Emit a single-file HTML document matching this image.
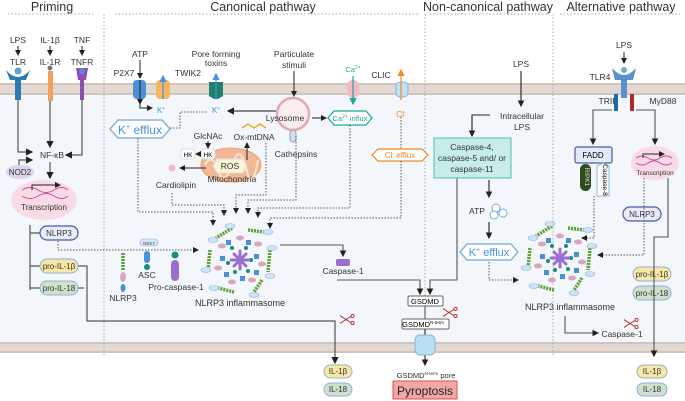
<!DOCTYPE html>
<html><head><meta charset="utf-8"><style>
html,body{margin:0;padding:0;background:#fff}
svg{display:block;font-family:"Liberation Sans",sans-serif}
</style></head><body>
<svg width="685" height="401" viewBox="0 0 685 401" xmlns="http://www.w3.org/2000/svg">
<defs>
<marker id="a" markerWidth="6" markerHeight="6" refX="5" refY="3" orient="auto"><path d="M0,0 L6,3 L0,6z" fill="#222"/></marker>
<marker id="ab" markerWidth="6" markerHeight="6" refX="5" refY="3" orient="auto"><path d="M0,0 L6,3 L0,6z" fill="#4a90e2"/></marker>
<marker id="ao" markerWidth="6" markerHeight="6" refX="5" refY="3" orient="auto"><path d="M0,0 L6,3 L0,6z" fill="#f08a24"/></marker>
<marker id="at" markerWidth="6" markerHeight="6" refX="5" refY="3" orient="auto"><path d="M0,0 L6,3 L0,6z" fill="#20a89a"/></marker>
<symbol id="inf" viewBox="-40 -40 80 80">
<g stroke="#5aa02c" stroke-width="3.5" stroke-dasharray="2 1">
<line x1="-8" y1="-32" x2="-24" y2="-22"/><line x1="8" y1="-30" x2="24" y2="-28"/><line x1="30" y1="-10" x2="28" y2="12"/>
<line x1="22" y1="20" x2="14" y2="32"/><line x1="-6" y1="32" x2="-22" y2="28"/><line x1="-32" y1="10" x2="-30" y2="-10"/></g>
<g fill="#cfe3f6" stroke="#8ab4dc" stroke-width=".6">
<ellipse cx="-10" cy="-34" rx="5" ry="2.5"/><ellipse cx="-27" cy="-20" rx="5" ry="2.5"/><ellipse cx="28" cy="-28" rx="5" ry="2.5"/>
<ellipse cx="32" cy="-12" rx="5" ry="2.5"/><ellipse cx="30" cy="16" rx="5" ry="2.5"/><ellipse cx="14" cy="35" rx="5" ry="2.5"/>
<ellipse cx="-26" cy="28" rx="5" ry="2.5"/><ellipse cx="-34" cy="10" rx="5" ry="2.5"/></g>
<g fill="#d9a6c2"><ellipse cx="-18" cy="-14" rx="4" ry="2.5"/><ellipse cx="0" cy="-22" rx="4" ry="2.5"/><ellipse cx="18" cy="-16" rx="4" ry="2.5"/><ellipse cx="22" cy="4" rx="4" ry="2.5"/><ellipse cx="12" cy="20" rx="4" ry="2.5"/><ellipse cx="-8" cy="22" rx="4" ry="2.5"/><ellipse cx="-22" cy="8" rx="4" ry="2.5"/></g>
<g fill="#4a8fd8"><rect x="-14" y="-20" width="5" height="5"/><rect x="6" y="-20" width="5" height="5"/><rect x="14" y="-6" width="5" height="5"/><rect x="14" y="10" width="5" height="5"/><rect x="0" y="16" width="5" height="5"/><rect x="-16" y="12" width="5" height="5"/><rect x="-20" y="-4" width="5" height="5"/></g>
<g fill="#138f7a"><circle cx="-8" cy="-12" r="2"/><circle cx="6" cy="-12" r="2"/><circle cx="11" cy="0" r="2"/><circle cx="8" cy="11" r="2"/><circle cx="-5" cy="12" r="2"/><circle cx="-12" cy="3" r="2"/></g>
<g stroke="#9a6fcf" stroke-width="3" stroke-linecap="round"><line x1="-9" y1="0" x2="9" y2="0"/><line x1="0" y1="-9" x2="0" y2="9"/><line x1="-6" y1="-6" x2="6" y2="6"/><line x1="-6" y1="6" x2="6" y2="-6"/></g>
</symbol>
<symbol id="sc" viewBox="0 0 20 14"><g stroke="#b5302a" stroke-width="1.2" fill="none"><line x1="1" y1="2" x2="15" y2="11"/><line x1="1" y1="12" x2="15" y2="3"/><circle cx="17" cy="2.5" r="2"/><circle cx="17" cy="11.5" r="2"/></g></symbol>
</defs>

<rect x="0" y="95" width="685" height="247" fill="#f3f6fb"/>
<g>
<rect x="0" y="83" width="685" height="12" fill="#e3d9d2"/>
<line x1="0" y1="84" x2="685" y2="84" stroke="#bfb0a6"/><line x1="0" y1="94" x2="685" y2="94" stroke="#bfb0a6"/>
<rect x="0" y="342" width="685" height="11" fill="#e3d9d2"/>
<line x1="0" y1="343" x2="685" y2="343" stroke="#bfb0a6"/><line x1="0" y1="352" x2="685" y2="352" stroke="#bfb0a6"/>
</g>
<g font-size="12.5" fill="#333" text-anchor="middle">
<text x="52" y="11">Priming</text><text x="263" y="11">Canonical pathway</text>
<text x="488" y="11">Non-canonical pathway</text><text x="621" y="11">Alternative pathway</text></g>
<g stroke="#aaa" stroke-dasharray="1.5 2" stroke-width="1">
<line x1="8" y1="14" x2="93" y2="14"/><line x1="115" y1="14" x2="420" y2="14"/><line x1="430" y1="14" x2="548" y2="14"/><line x1="560" y1="14" x2="680" y2="14"/>
<line x1="104" y1="14" x2="104" y2="355"/><line x1="425" y1="14" x2="425" y2="355"/><line x1="553" y1="14" x2="553" y2="355"/></g>

<g font-size="8.5" fill="#333" text-anchor="middle">
<text x="18" y="43">LPS</text><text x="50" y="43">IL-1β</text><text x="82" y="43">TNF</text>
<text x="18" y="65">TLR</text><text x="50" y="65">IL-1R</text><text x="82" y="65">TNFR</text>
</g>
<g stroke="#222" fill="none" stroke-width="1">
<line x1="18" y1="46" x2="18" y2="55" marker-end="url(#a)"/><line x1="50" y1="46" x2="50" y2="55" marker-end="url(#a)"/><line x1="82" y1="46" x2="82" y2="55" marker-end="url(#a)"/>
</g>
<path d="M6,70 Q18,84 30,70 L26,80 L21,80 L21,100 L15,100 L15,80 L10,80z" fill="#2a7bb0"/><circle cx="18" cy="71" r="4" fill="#6a9fc8" stroke="#fff"/>
<rect x="48" y="71" width="5" height="30" fill="#f0a060"/><circle cx="50" cy="68" r="2.5" fill="#777"/>
<path d="M76,68 L88,68 L86,80 L84,80 L84,100 L80,100 L80,80 L78,80z" fill="#8a4fb0"/><circle cx="82" cy="71" r="3" fill="#6a7fe0"/>
<g stroke="#555" fill="none" stroke-width="1.2">
<path d="M18,100 L18,152 L32,152" marker-end="url(#a)"/>
<line x1="50" y1="101" x2="50" y2="147" marker-end="url(#a)"/>
<path d="M82,100 L82,155 L66,155" marker-end="url(#a)"/>
<path d="M19,168 L19,160 L32,160" marker-end="url(#a)"/>
<line x1="50" y1="162" x2="50" y2="178" marker-end="url(#a)"/>
<path d="M30,225 L30,290 M30,233 L40,233 M30,266 L40,266 M30,288 L40,288"/>
<path d="M78,266 L87,266 L87,321 L335,321 L335,363" marker-end="url(#a)"/>
<path d="M78,288 L84,288"/>
</g>
<text x="52" y="158" font-size="8.5" fill="#333" text-anchor="middle">NF-κB</text>
<ellipse cx="20" cy="172" rx="14" ry="7" fill="#dcd3ec"/><text x="20" y="175" font-size="8" fill="#333" text-anchor="middle">NOD2</text>
<ellipse cx="44" cy="200" rx="33" ry="20" fill="#f9dbe6"/>
<path d="M22,190 Q30,185 38,190 T54,190 T68,190 M22,196 Q30,201 38,196 T54,196 T68,196" stroke="#d04aa0" fill="none"/>
<path d="M32,190 L32,185 L60,185" stroke="#222" fill="none" marker-end="url(#a)"/>
<text x="44" y="210" font-size="8" fill="#333" text-anchor="middle">Transcription</text>
<g font-size="8" fill="#333" text-anchor="middle">
<rect x="40" y="226" width="38" height="14" rx="7" fill="#e9ecf8" stroke="#4a5aa8" stroke-width="1.2"/><text x="59" y="236">NLRP3</text>
<rect x="40" y="259" width="38" height="14" rx="7" fill="#f8e7a5" stroke="#8fb0dc"/><text x="59" y="269">pro-IL-1β</text>
<rect x="40" y="281" width="38" height="14" rx="7" fill="#cfe0cc" stroke="#8fb0dc"/><text x="59" y="291">pro-IL-18</text>
<rect x="324" y="365" width="28" height="13" rx="6.5" fill="#f8e7a5" stroke="#8fb0dc"/><text x="338" y="374">IL-1β</text>
<rect x="324" y="383" width="28" height="13" rx="6.5" fill="#cfe0cc" stroke="#8fb0dc"/><text x="338" y="392">IL-18</text>
<rect x="637" y="365" width="30" height="13" rx="6.5" fill="#f8e7a5" stroke="#8fb0dc"/><text x="652" y="374">IL-1β</text>
<rect x="637" y="383" width="30" height="13" rx="6.5" fill="#cfe0cc" stroke="#8fb0dc"/><text x="652" y="392">IL-18</text>
<rect x="633" y="267" width="38" height="14" rx="7" fill="#f8e7a5" stroke="#8fb0dc"/><text x="652" y="277">pro-IL-1β</text>
<rect x="633" y="286" width="38" height="14" rx="7" fill="#cfe0cc" stroke="#8fb0dc"/><text x="652" y="296">pro-IL-18</text>
<rect x="623" y="207" width="38" height="14" rx="7" fill="#e9ecf8" stroke="#4a5aa8" stroke-width="1.2"/><text x="642" y="217">NLRP3</text>
</g>
<path d="M58,241 L58,250 L198,250" stroke="#555" stroke-dasharray="1.5 1.5" fill="none" marker-end="url(#a)"/>
<rect x="140" y="239" width="18" height="7" rx="3.5" fill="#d6e6f6" stroke="#8ab4dc" stroke-width=".6"/><text x="149" y="245" font-size="4.5" text-anchor="middle" fill="#445">NEK7</text>
<line x1="123" y1="253" x2="123" y2="270" stroke="#5aa02c" stroke-width="3.5" stroke-dasharray="2 1"/>
<ellipse cx="123" cy="277" rx="3" ry="5" fill="#d9a6c2"/><ellipse cx="123" cy="288" rx="2.5" ry="4" fill="#4a8fd8"/>
<rect x="144" y="251" width="6" height="12" rx="3" fill="#4a8fd8"/><circle cx="147" cy="267" r="3" fill="#138f7a"/>
<circle cx="175" cy="255" r="3.5" fill="#138f7a"/><rect x="171" y="260" width="8" height="21" rx="4" fill="#9a6fcf"/>
<g font-size="8.5" fill="#333" text-anchor="middle"><text x="123" y="301">NLRP3</text><text x="147" y="278">ASC</text><text x="176" y="290">Pro-caspase-1</text>
<text x="240" y="306" font-size="9">NLRP3 inflammasome</text><text x="570" y="310" font-size="9">NLRP3 inflammasome</text></g>
<use href="#inf" x="200" y="220" width="80" height="80"/>
<use href="#inf" x="520" y="218" width="80" height="80"/>

<g font-size="8.5" fill="#333" text-anchor="middle">
<text x="140" y="57">ATP</text><text x="124" y="76">P2X7</text><text x="188" y="76">TWIK2</text>
<text x="216" y="57">Pore forming</text><text x="216" y="66">toxins</text>
<text x="294" y="57">Particulate</text><text x="294" y="68">stimuli</text>
<text x="381" y="78">CLIC</text><text x="296" y="157">Cathepsins</text>
<text x="208" y="139">GlcNAc</text><text x="254" y="140">Ox-mtDNA</text><text x="176" y="188">Cardiolipin</text>
<text x="343" y="274">Caspase-1</text><text x="521" y="67">LPS</text><text x="522" y="119">Intracellular</text><text x="522" y="130">LPS</text>
<text x="477" y="214">ATP</text><text x="624" y="48">LPS</text><text x="600" y="80">TLR4</text><text x="608" y="104">TRIF</text><text x="663" y="104">MyD88</text>
<text x="622" y="337">Caspase-1</text><text x="426" y="378" font-size="7.5">GSDMD<tspan font-size="4.5" dy="-3">N-term</tspan><tspan dy="3"> pore</tspan></text>
</g>
<line x1="140" y1="60" x2="140" y2="78" stroke="#222" marker-end="url(#a)"/>
<rect x="133" y="80" width="13" height="19" rx="4" fill="#4a8fd8"/><line x1="140" y1="80" x2="140" y2="104" stroke="#222" marker-end="url(#a)"/>
<rect x="156" y="80" width="14" height="19" rx="4" fill="#f5b860"/><line x1="163" y1="99" x2="163" y2="76" stroke="#4a90e2" stroke-width="1.2" marker-end="url(#ab)"/>
<path d="M209,82 L223,82 L223,96 L218,99 L214,99 L209,96z" fill="#1f8070"/><line x1="216" y1="99" x2="216" y2="74" stroke="#4a90e2" stroke-width="1.2" marker-end="url(#ab)"/>
<line x1="294" y1="71" x2="294" y2="96" stroke="#222" marker-end="url(#a)"/>
<path d="M140,104 L140,108 L152,108" stroke="#222" fill="none" marker-end="url(#a)"/>
<g font-size="8" fill="#4a90e2"><text x="157" y="113">K<tspan font-size="5" dy="-3">+</tspan></text><text x="212" y="113">K<tspan font-size="5" dy="-3">+</tspan></text></g>
<line x1="276" y1="111" x2="228" y2="111" stroke="#444" stroke-width="1.2" marker-end="url(#a)"/>
<circle cx="293" cy="114" r="16" fill="#fbeef0" stroke="#e3a9b2" stroke-width="2.5"/><text x="285" y="121" font-size="8.5" text-anchor="middle" fill="#333">Lysosome</text>
<rect x="290" y="130" width="6" height="12" rx="3" fill="#cfe0f2" stroke="#99b"/>
<line x1="312" y1="118" x2="326" y2="118" stroke="#222" marker-end="url(#a)"/>
<polygon points="328,118 334,111 366,111 372,118 366,125 334,125" fill="#fff" stroke="#20a89a" stroke-width="1.3"/>
<text x="350" y="121" font-size="7.5" fill="#20a89a" text-anchor="middle">Ca<tspan font-size="5" dy="-3">2+</tspan><tspan dy="3"> influx</tspan></text>
<rect x="347" y="80" width="12" height="18" rx="6" fill="#f6b8c8"/><line x1="353" y1="76" x2="353" y2="104" stroke="#20a89a" stroke-width="1.2" marker-end="url(#at)"/>
<text x="353" y="72" font-size="7.5" fill="#20a89a" text-anchor="middle">Ca<tspan font-size="5" dy="-3">2+</tspan></text>
<rect x="396" y="82" width="12" height="15" rx="4" fill="#bfe0f6" stroke="#8ab4dc"/><line x1="401" y1="100" x2="401" y2="70" stroke="#f08a24" stroke-width="1.2" marker-end="url(#ao)"/>
<text x="401" y="117" font-size="8.5" fill="#f08a24" text-anchor="middle">Cl<tspan font-size="5" dy="-3">-</tspan></text>
<polygon points="372,155 378,149 422,149 428,155 422,161 378,161" fill="#fff" stroke="#f08a24" stroke-width="1.2"/>
<text x="400" y="158" font-size="8" fill="#f08a24" text-anchor="middle">Cl<tspan font-size="5" dy="-3">-</tspan><tspan dy="3">  efflux</tspan></text>
<polygon points="110,129 118,120 162,120 170,129 162,138 118,138" fill="#fff" stroke="#8ab4dc" stroke-width="1.5"/>
<text x="140" y="134" font-size="12" fill="#4a90e2" text-anchor="middle">K<tspan font-size="7" dy="-5">+</tspan><tspan dy="5"> efflux</tspan></text>
<ellipse cx="231" cy="165" rx="30" ry="17" fill="#f2b896" stroke="#e9a070"/>
<path d="M205,165 Q212,152 218,170 T232,165 T246,168 T258,160" stroke="#fde6d8" stroke-width="2" fill="none"/>
<polygon points="213,166 217,159 243,159 247,166 243,173 217,173" fill="#fdf4d8" stroke="#ddd"/>
<text x="230" y="169" font-size="8.5" fill="#333" text-anchor="middle">ROS</text><text x="232" y="182" font-size="8.5" fill="#333" text-anchor="middle">Mitochondria</text>
<path d="M242,128 l6,-4 l6,4 l6,-4 l6,4" stroke="#e9a000" fill="none" stroke-width="1.3"/>
<rect x="201" y="149" width="14" height="10" rx="3" fill="#fff" stroke="#ddd"/><text x="208" y="157" font-size="6.5" text-anchor="middle">HK</text>
<rect x="181" y="149" width="14" height="10" rx="3" fill="#fff" stroke="#ddd"/><text x="188" y="157" font-size="6.5" text-anchor="middle">HK</text>
<circle cx="172" cy="168" r="3.5" fill="#f2b8d0"/>
<g stroke="#222" fill="none">
<line x1="208" y1="141" x2="208" y2="148" marker-end="url(#a)"/><line x1="201" y1="154" x2="196" y2="154" marker-end="url(#a)"/>
<line x1="206" y1="168" x2="180" y2="168" marker-end="url(#a)"/><line x1="247" y1="160" x2="247" y2="143" marker-end="url(#a)"/></g>
<g stroke="#555" stroke-dasharray="1.5 1.5" fill="none">
<path d="M170,128 L180,128 L180,112 L208,112"/>
<path d="M138,138 L138,212 L213,212 L213,225" marker-end="url(#a)"/>
<path d="M172,193 L172,205 L224,205 L224,215" marker-end="url(#a)"/>
<path d="M266,143 L266,195 L236,195 L236,213" marker-end="url(#a)"/>
<path d="M296,136 L296,200 L248,200 L248,213" marker-end="url(#a)"/>
<path d="M350,125 L350,208 L258,208 L258,217" marker-end="url(#a)"/>
<path d="M401,117 L401,148 M401,161 L401,218 L270,218 L270,228" marker-end="url(#a)"/>
</g>
<g stroke="#555" fill="none" stroke-width="1.1">
<path d="M280,245 L343,245 L343,256" marker-end="url(#a)"/>
<path d="M337,280 L420,280 L420,294" marker-end="url(#a)"/>
<path d="M457,175 L457,280 L430,280 L430,294" marker-end="url(#a)"/>
<line x1="425" y1="306" x2="425" y2="319"/>
<line x1="425" y1="328" x2="425" y2="365" stroke="#222" marker-end="url(#a)"/>
</g>
<rect x="336" y="259" width="14" height="7" rx="2" fill="#9a6fcf"/>
<use href="#sc" x="339" y="314" width="16" height="11"/>
<use href="#sc" x="442" y="307" width="16" height="11"/>
<use href="#sc" x="623" y="318" width="16" height="11"/>
<rect x="408" y="296" width="35" height="10" rx="1.5" fill="#fff" stroke="#666"/><text x="425" y="304" font-size="7.5" text-anchor="middle">GSDMD</text>
<rect x="402" y="319" width="47" height="10" rx="1.5" fill="#fff" stroke="#666"/><text x="423" y="327" font-size="7.5" text-anchor="middle">GSDMD<tspan font-size="4.5" dy="-3">N-term</tspan></text>
<rect x="415" y="335" width="20" height="20" rx="5" fill="#b8def2" stroke="#8ab4dc"/>
<rect x="393" y="381" width="64" height="18" fill="#f2a7a7" stroke="#e05050"/><text x="425" y="395" font-size="12" fill="#222" text-anchor="middle">Pyroptosis</text>
<g stroke="#222" fill="none" stroke-width="1.1">
<line x1="521" y1="71" x2="521" y2="106" marker-end="url(#a)"/>
<path d="M490,115 L472,115 L472,136" marker-end="url(#a)"/>
<line x1="489" y1="180" x2="489" y2="197" marker-end="url(#a)"/>
<line x1="489" y1="222" x2="489" y2="238" marker-end="url(#a)"/>
</g>
<rect x="434" y="138" width="77" height="40" fill="#c6ede8" stroke="#5bb8b0"/>
<g font-size="8.5" fill="#333" text-anchor="middle"><text x="472" y="150">Caspase-4,</text><text x="472" y="161">caspase-5 and/ or</text><text x="472" y="172">caspase-11</text></g>
<g fill="#fff" stroke="#7aaae0"><circle cx="496" cy="208" r="4"/><circle cx="503" cy="213" r="4"/><circle cx="494" cy="215" r="4"/></g>
<polygon points="460,252 467,244 511,244 518,252 511,260 467,260" fill="#fff" stroke="#8ab4dc" stroke-width="1.5"/>
<text x="489" y="256" font-size="11" fill="#4a90e2" text-anchor="middle">K<tspan font-size="7" dy="-4">+</tspan><tspan dy="4"> efflux</tspan></text>
<path d="M489,262 L489,280 L518,280" stroke="#555" stroke-dasharray="1.5 1.5" fill="none" marker-end="url(#a)"/>
<line x1="624" y1="52" x2="624" y2="63" stroke="#222" marker-end="url(#a)"/>
<path d="M612,68 Q624,82 636,68 L633,80 L627,80 L627,98 L621,98 L621,80 L615,80z" fill="#5a8fd0"/><circle cx="624" cy="70" r="3.5" fill="#7ab" stroke="#fff"/>
<rect x="614" y="94" width="4" height="17" fill="#1f6aa0"/><rect x="630" y="94" width="4" height="17" fill="#b02a2a"/>
<g stroke="#555" fill="none" stroke-width="1.1">
<path d="M612,110 L593,110 L593,144" marker-end="url(#a)"/>
<path d="M636,110 L655,110 L655,144" marker-end="url(#a)"/>
<path d="M668,178 L668,237 L654,237 L654,356" marker-end="url(#a)"/>
<path d="M565,316 L565,333 L598,333" marker-end="url(#a)"/>
</g>
<g stroke="#555" stroke-dasharray="1.5 1.5" fill="none">
<path d="M594,196 L594,238 L582,238" marker-end="url(#a)"/>
<path d="M644,178 L644,255 L598,255" marker-end="url(#a)"/>
</g>
<rect x="575" y="147" width="37" height="16" rx="2" fill="#e6eaf8" stroke="#4a5aa8" stroke-width="1.2"/><text x="593" y="158" font-size="8" text-anchor="middle">FADD</text>
<rect x="580" y="164" width="11" height="27" rx="5.5" fill="#2e4a1e"/><text x="585" y="177" font-size="6.5" fill="#ddd" text-anchor="middle" transform="rotate(90 585 177)">RIPK1</text>
<polygon points="597,166 603,163 609,166 609,196 597,196" fill="#fff" stroke="#8ab4dc"/><text x="603" y="180" font-size="6.5" text-anchor="middle" transform="rotate(90 603 180)">Caspase-8</text>
<ellipse cx="655" cy="163" rx="24" ry="17" fill="#f9dbe6"/>
<path d="M636,158 Q642,154 648,158 T660,158 T672,158 M636,163 Q642,167 648,163 T660,163 T672,163" stroke="#d04aa0" fill="none"/>
<path d="M643,158 L643,154 L664,154" stroke="#222" fill="none" marker-end="url(#a)"/>
<text x="655" y="175" font-size="6.5" text-anchor="middle" fill="#333">Transcription</text>
</svg>
</body></html>
